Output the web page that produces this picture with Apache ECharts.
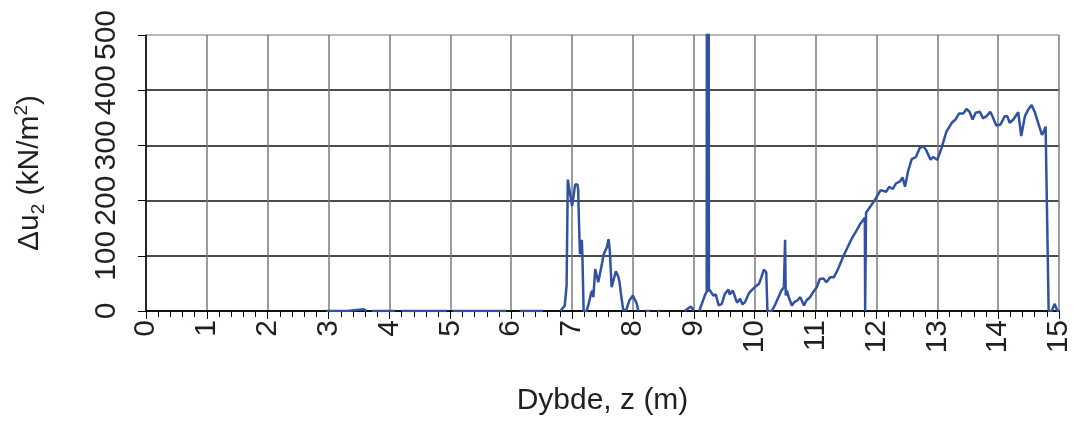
<!DOCTYPE html>
<html>
<head>
<meta charset="utf-8">
<script src="https://cdn.jsdelivr.net/npm/echarts@6/dist/echarts.min.js"></script>
<style>
  html, body { margin: 0; padding: 0; background: #fff; }
  #chart { width: 1074px; height: 421px; }
</style>
</head>
<body>
<div id="chart"></div>
<script>
// Depth along the profile (m) and excess pore pressure Δu2 (kN/m²).
// null in du2 breaks the line where no reading was recorded.
const depth = [
  2.96, 3.30, 3.58, 3.60, 3.62, 3.66,
  3.71, 4.09, 4.15,
  4.20, 4.94, 4.99,
  5.04, 5.92, 6.03,
  6.14, 6.52, 6.66,
  6.81, 6.88, 6.91, 6.93, 6.95, 7.00, 7.02, 7.05, 7.09, 7.10, 7.12, 7.13, 7.16, 7.17, 7.19,
  7.24, 7.28, 7.31, 7.33, 7.35, 7.38, 7.40, 7.43, 7.44, 7.49, 7.52, 7.54, 7.57, 7.60, 7.62,
  7.65, 7.68, 7.72, 7.76, 7.78, 7.80, 7.84, 7.89, 7.94, 8.00, 8.06, 8.09, 8.15,
  8.21, 8.28, 8.34,
  8.40, 8.44, 8.60,
  8.85, 8.95, 8.98, 8.99, 9.04,
  9.09, 9.18, 9.212, 9.215, 9.218, 9.221, 9.224, 9.227, 9.230, 9.233, 9.236, 9.239, 9.242,
  9.245, 9.248,
  9.28, 9.32, 9.36, 9.41, 9.46, 9.51,
  9.57, 9.59, 9.64, 9.67, 9.71, 9.76, 9.80, 9.84, 9.91, 9.98, 10.03, 10.07, 10.11, 10.15,
  10.19, 10.21, 10.28, 10.33, 10.39, 10.44, 10.48, 10.50, 10.51, 10.53, 10.56, 10.61, 10.65,
  10.70, 10.75, 10.81, 10.85, 10.91, 10.96, 11.02, 11.07, 11.13, 11.18, 11.24, 11.30, 11.37,
  11.46, 11.59, 11.67, 11.73, 11.81, 11.815, 11.83, 11.98, 12.07, 12.16, 12.21, 12.27, 12.32,
  12.39, 12.43, 12.47, 12.52, 12.58, 12.65, 12.71, 12.77, 12.82, 12.89, 12.93, 13.00, 13.07,
  13.15, 13.24, 13.30, 13.36, 13.43, 13.48, 13.53, 13.58, 13.63, 13.70, 13.75, 13.81, 13.87,
  13.91, 13.97, 14.04, 14.11, 14.15, 14.19, 14.25, 14.33, 14.36, 14.38, 14.44, 14.49, 14.55,
  14.60, 14.66, 14.72, 14.75, 14.78, 14.80, 14.83, 14.88, 14.93, 14.97, 15.00
];
const du2 = [
  0, 0, 3, 0, 0, null,
  0, 0, null,
  0, 0, null,
  0, 0, null,
  0, 0, null,
  0, 10, 46, 238, 235, 190, 205, 229, 229, 220, 136, 103, 129, 100, 0,
  0, 16, 31, 37, 25, 76, 79, 52, 49, 85, 103, 106, 115, 130, 109,
  43, 46, 72, 62, 52, 34, 2, 2, 19, 28, 14, 0, null,
  0, 0, null,
  0, 0, null,
  0, 8, 4, 0, null,
  0, 28, 35, 650, 35, 650, 35, 650, 35, 650, 35, 650, 35,
  650, 40,
  40, 28, 30, 10, 13, 31,
  39, 30, 37, 28, 15, 22, 12, 16, 33, 41, 46, 49, 61, 75,
  70, 0, 0, 10, 25, 37, 43, 129, 28, 37, 25, 10, 16,
  19, 25, 10, 19, 25, 34, 43, 58, 59, 52, 61, 61, 76,
  100, 130, 145, 157, 169, 0, 178, 202, 219, 216, 225, 221, 231,
  235, 242, 225, 253, 275, 279, 295, 299, 291, 274, 279, 274, 295,
  325, 341, 347, 358, 358, 366, 361, 347, 359, 361, 349, 353, 361,
  352, 336, 338, 353, 353, 341, 347, 360, 358, 317, 353, 364, 373,
  361, 340, 319, 325, 334, 334, 0, 0, 13, 1, 0
];
const yTicks = [0, 100, 200, 300, 400, 500];
const xTickStep = 1;

const FONT = '"Liberation Sans", Arial, sans-serif';
const TEXT = '#231f20';

const points = depth.map((d, i) => [d, du2[i] === null ? '-' : du2[i]]);

const chart = echarts.init(document.getElementById('chart'), null, { renderer: 'canvas' });
chart.setOption({
  animation: false,
  backgroundColor: '#ffffff',
  grid: { left: 146, right: 15, top: 35, bottom: 109, containLabel: false },
  xAxis: {
    type: 'value',
    min: 0, max: 15, interval: xTickStep,
    name: 'Dybde, z (m)',
    nameLocation: 'middle',
    nameGap: 75,
    nameTextStyle: { fontFamily: FONT, fontSize: 30, color: TEXT },
    axisLine: { show: true, onZero: false, lineStyle: { color: '#000', width: 1.5 } },
    axisTick: { show: true, inside: false, length: 8, lineStyle: { color: '#000', width: 1 } },
    minorTick: { show: true, splitNumber: 5, length: 6, lineStyle: { color: '#000', width: 1 } },
    axisLabel: {
      rotate: 90, margin: 9,
      fontFamily: FONT, fontSize: 30, color: TEXT
    },
    splitLine: { show: true, lineStyle: { color: '#7a7a7a', width: 1.5 } }
  },
  yAxis: {
    type: 'value',
    min: yTicks[0], max: yTicks[yTicks.length - 1], interval: yTicks[1] - yTicks[0],
    name: '{a|Δu}{sub|2}{a| (kN/m}{sup|2}{a|)}',
    nameLocation: 'middle',
    nameGap: 98,
    nameTextStyle: {
      fontFamily: FONT, color: TEXT,
      rich: {
        a: { fontFamily: FONT, fontSize: 30, lineHeight: 36, color: TEXT },
        sub: { fontFamily: FONT, fontSize: 19, lineHeight: 19, verticalAlign: 'bottom', color: TEXT },
        sup: { fontFamily: FONT, fontSize: 19, lineHeight: 19, verticalAlign: 'top', color: TEXT }
      }
    },
    axisLine: { show: true, lineStyle: { color: '#000', width: 1.5 } },
    axisTick: { show: true, length: 8, lineStyle: { color: '#000', width: 1 } },
    axisLabel: {
      rotate: 90, margin: 24,
      fontFamily: FONT, fontSize: 30, color: TEXT
    },
    splitLine: {
      show: true,
      lineStyle: { color: ['#111', '#111', '#111', '#111', '#111', '#a0a0a0'], width: 1.5 }
    }
  },
  series: [{
    type: 'line',
    data: points,
    showSymbol: false,
    connectNulls: false,
    clip: true,
    lineStyle: { color: '#3152a3', width: 2.5 },
    itemStyle: { color: '#3152a3' }
  }]
});
</script>
</body>
</html>
